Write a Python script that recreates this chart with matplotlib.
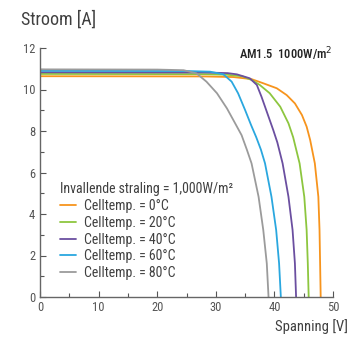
import matplotlib
matplotlib.use("Agg")
import matplotlib.pyplot as plt
from matplotlib import font_manager

fams = set(f.name for f in font_manager.fontManager.ttflist)
FONT = "DejaVu Sans"
for cand in ["Roboto Condensed", "Archivo Narrow", "PT Sans Narrow",
             "Liberation Sans Narrow", "Barlow Semi Condensed", "Liberation Sans"]:
    if cand in fams:
        FONT = cand
        break
plt.rcParams['font.family'] = [FONT, 'DejaVu Sans']

labels = ["Celltemp. = 0°C", "Celltemp. = 20°C", "Celltemp. = 40°C",
          "Celltemp. = 60°C", "Celltemp. = 80°C"]
colors = ["#F7941D", "#8DC63F", "#6B4FA0", "#2AA7DF", "#9B9B9B"]

v_0 = [0, 28, 33, 36.1, 38.1, 40.4, 42.1, 43.5, 44.7, 45.5, 46.1, 46.9, 47.5, 47.7, 47.8, 47.9]
i_0 = [10.64, 10.63, 10.6, 10.5, 10.3, 10.06, 9.73, 9.33, 8.77, 8.21, 7.57, 6.44, 4.83, 3.23, 1.62, 0]
v_20 = [0, 28, 32, 34.5, 36.1, 37.5, 39.2, 41.0, 42.4, 43.2, 44.3, 45.1, 45.5, 45.7, 45.85]
i_20 = [10.75, 10.74, 10.71, 10.64, 10.46, 10.22, 9.82, 9.17, 8.37, 7.7, 6.44, 4.83, 3.23, 1.62, 0]
v_40 = [0, 28, 32, 33.6, 35.8, 37.0, 37.8, 38.7, 39.8, 40.5, 41.4, 42.4, 43.1, 43.5, 43.7]
i_40 = [10.83, 10.82, 10.79, 10.73, 10.54, 10.22, 9.65, 8.93, 8.05, 7.45, 6.44, 4.83, 3.23, 1.62, 0]
v_60 = [0, 25, 29, 31.3, 32.7, 33.8, 35.0, 36.0, 36.9, 37.7, 38.4, 39.5, 40.3, 40.8, 41.1]
i_60 = [10.9, 10.89, 10.86, 10.73, 10.38, 9.82, 9.01, 8.3, 7.7, 7.1, 6.44, 4.83, 3.23, 1.62, 0]
v_80 = [0, 20, 24.5, 26.7, 28.4, 30.2, 31.9, 33.3, 34.4, 35.3, 36.1, 37.3, 38.1, 38.7, 39.0]
i_80 = [10.97, 10.96, 10.93, 10.78, 10.38, 9.82, 9.09, 8.37, 7.8, 7.1, 6.44, 4.83, 3.23, 1.62, 0]

series_v = [v_0, v_20, v_40, v_60, v_80]
series_i = [i_0, i_20, i_40, i_60, i_80]

xticks = [0, 10, 20, 30, 40, 50]
yticks = [0, 2, 4, 6, 8, 10, 12]

TXT = "#404040"

fig = plt.figure(figsize=(3.55, 3.38), dpi=100)
ax = fig.add_axes([40/355, 1-297/338, (333-40)/355, (297-48)/338])

for v, i, c, lab in zip(series_v, series_i, colors, labels):
    ax.plot(v, i, color=c, lw=1.3, label=lab, solid_capstyle='round',
            solid_joinstyle='round')

ax.set_xlim(0, 50)
ax.set_ylim(0, 12)
ax.set_xticks(xticks)
ax.set_yticks(yticks)
ax.set_xticks(range(5, 50, 10), minor=True)
ax.set_yticks(range(1, 12, 2), minor=True)
for s in ['top', 'right']:
    ax.spines[s].set_visible(False)
for s in ['left', 'bottom']:
    ax.spines[s].set_color("#666666")
    ax.spines[s].set_linewidth(1.0)
ax.tick_params(which='both', direction='in', color="#555555", labelcolor="#555555",
               labelsize=9, width=0.8)
ax.tick_params(which='major', length=4)
ax.tick_params(which='minor', length=3)
ax.tick_params(axis='x', pad=3)

fig.text(21/355, 1-20/338, "Stroom [A]", fontsize=13, color=TXT, va='center', ha='left')
fig.text(348/355, 1-327/338, "Spanning [V]", fontsize=10.5, color=TXT, va='center', ha='right')
ax.text(0.997, 0.975, "AM1.5  1000W/m$^2$", transform=ax.transAxes, fontsize=9,
        color="#222222", ha='right', va='center', fontweight='medium')

leg = ax.legend(title="Invallende straling = 1,000W/m²", loc='upper left',
                bbox_to_anchor=(0.035, 0.5), frameon=False, fontsize=10,
                title_fontsize=10, handlelength=1.15, handletextpad=0.6,
                labelspacing=0.2, borderpad=0.2, alignment='left')
for t in leg.get_texts():
    t.set_color(TXT)
leg.get_title().set_color(TXT)

fig.savefig("out.png", dpi=100)
